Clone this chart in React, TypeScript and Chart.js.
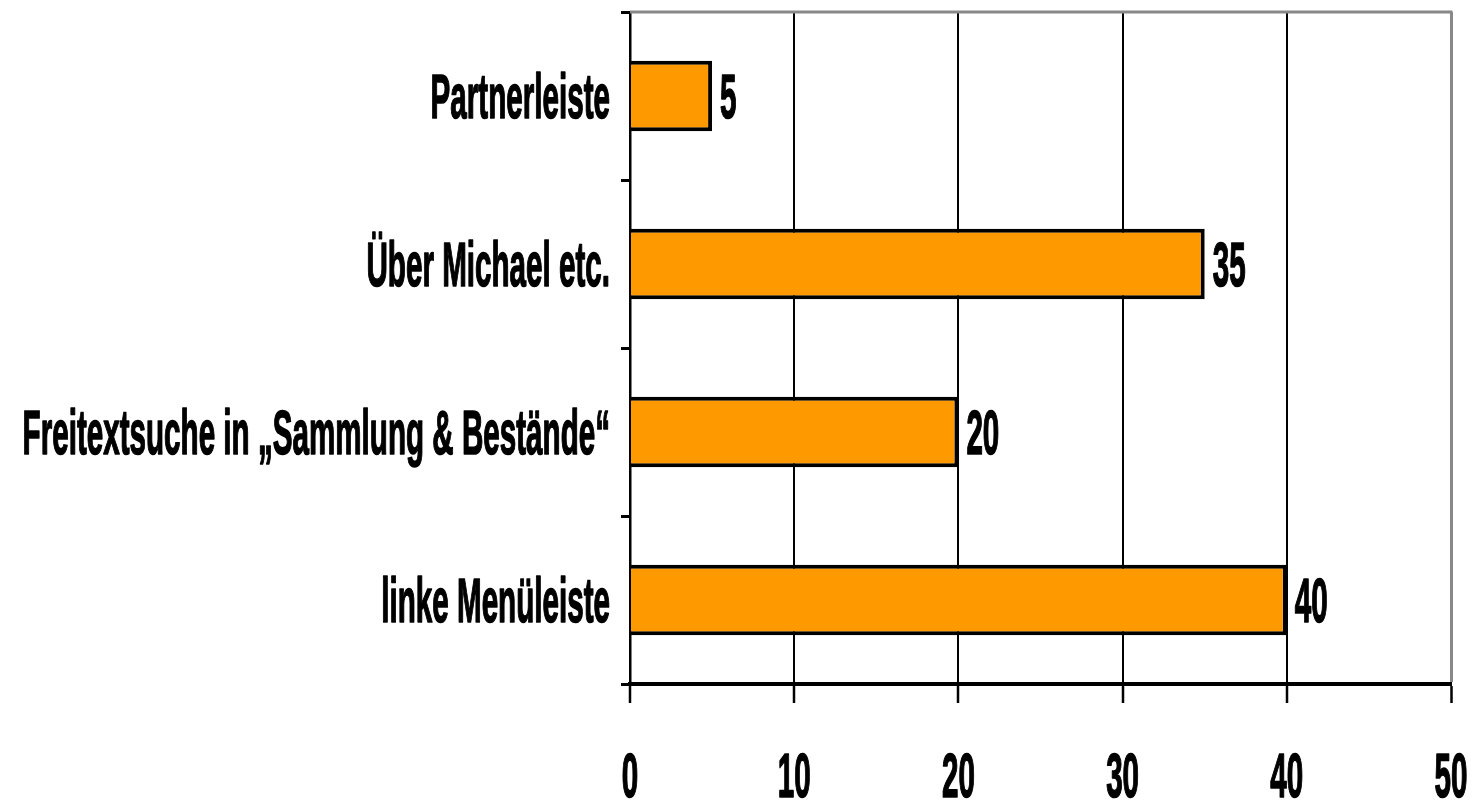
import React, { useEffect, useRef } from "react";
import { Chart, registerables } from "chart.js";

Chart.register(...registerables);

const categories = [
  "Partnerleiste",
  "Über Michael etc.",
  "Freitextsuche in \u201ESammlung & Bestände\u201C",
  "linke Menüleiste",
];
const values = [5, 35, 20, 40];
const xMin = 0;
const xMax = 50;
const xStep = 10;

const BAR_COLOR = "#FF9900";
const FONT_SIZE = 63;

function pickFont(): { family: string; sx: number } {
  const c = document.createElement("canvas").getContext("2d");
  if (c) {
    c.font = `bold ${FONT_SIZE}px "Liberation Sans Narrow", monospace`;
    const w1 = c.measureText("Partnerleiste").width;
    c.font = `bold ${FONT_SIZE}px monospace`;
    const w2 = c.measureText("Partnerleiste").width;
    if (Math.abs(w1 - w2) > 1) return { family: '"Liberation Sans Narrow"', sx: 0.575 };
  }
  return { family: '"Liberation Sans", Arial', sx: 0.47 };
}

export default function App() {
  const ref = useRef<HTMLCanvasElement | null>(null);

  useEffect(() => {
    if (!ref.current) return;
    const { family, sx } = pickFont();
    const font = `bold ${FONT_SIZE}px ${family}, sans-serif`;

    const drawText = (ctx: CanvasRenderingContext2D, text: string, px: number, py: number, align: CanvasTextAlign) => {
      ctx.save();
      ctx.translate(px, py);
      ctx.scale(sx, 1);
      ctx.font = font;
      ctx.fillStyle = "#000";
      ctx.strokeStyle = "#000";
      ctx.lineWidth = 1.6;
      ctx.lineJoin = "round";
      ctx.textAlign = align;
      ctx.textBaseline = "alphabetic";
      ctx.fillText(text, 0, 0);
      ctx.strokeText(text, 0, 0);
      ctx.restore();
    };

    const labelPlugin = {
      id: "customLabels",
      afterDraw(chart: any) {
        const ctx: CanvasRenderingContext2D = chart.ctx;
        const area = chart.chartArea;
        const xs = chart.scales.x;
        const ys = chart.scales.y;
        // top frame line
        ctx.save();
        ctx.strokeStyle = "#888888";
        ctx.lineWidth = 3;
        ctx.beginPath();
        ctx.moveTo(area.left, area.top);
        ctx.lineTo(area.right + 1.5, area.top);
        ctx.stroke();
        ctx.restore();
        // category labels
        categories.forEach((c, i) => {
          const py = ys.getPixelForValue(i);
          drawText(ctx, c, area.left - 20, py + 22, "right");
        });
        // value labels
        values.forEach((v, i) => {
          const py = ys.getPixelForValue(i);
          drawText(ctx, String(v), xs.getPixelForValue(v) + 8, py + 22, "left");
        });
        // x tick labels
        xs.ticks.forEach((t: any) => {
          drawText(ctx, String(t.value), xs.getPixelForValue(t.value), area.bottom + 113, "center");
        });
      },
    };

    const chart = new Chart(ref.current, {
      type: "bar",
      data: {
        labels: categories,
        datasets: [
          {
            data: values,
            backgroundColor: BAR_COLOR,
            borderColor: "#000000",
            borderWidth: 4,
            borderSkipped: "start",
            barPercentage: 0.42,
            categoryPercentage: 1,
          },
        ],
      },
      options: {
        indexAxis: "y",
        animation: false,
        responsive: true,
        maintainAspectRatio: false,
        layout: { padding: { top: 12, right: 21, left: 0, bottom: 0 } },
        plugins: {
          legend: { display: false },
          tooltip: { enabled: false },
        },
        scales: {
          x: {
            type: "linear",
            min: xMin,
            max: xMax,
            ticks: { stepSize: xStep, display: false },
            grid: {
              display: true,
              drawOnChartArea: true,
              drawTicks: true,
              tickLength: 19,
              color: (ctx: any) => (ctx.tick && ctx.tick.value === xMax ? "#888888" : "#000000"),
              lineWidth: (ctx: any) => (ctx.tick && ctx.tick.value === xMax ? 3 : 2),
              tickColor: "#000000",
              tickWidth: 2.5,
            },
            border: { display: true, color: "#000000", width: 4 },
            afterFit: (s: any) => {
              s.height = 116;
            },
          },
          y: {
            type: "category",
            ticks: { display: false },
            grid: {
              display: true,
              offset: true,
              drawOnChartArea: false,
              drawTicks: true,
              tickLength: 9,
              color: "#000000",
              lineWidth: 3,
            },
            border: { display: true, color: "#000000", width: 2.5 },
            afterFit: (s: any) => {
              s.width = 630;
            },
          },
        },
      },
      plugins: [labelPlugin],
    } as any);

    return () => chart.destroy();
  }, []);

  return (
    <div style={{ position: "fixed", left: 0, top: 0, width: 1472, height: 800, background: "#fff" }}>
      <canvas ref={ref} />
    </div>
  );
}
